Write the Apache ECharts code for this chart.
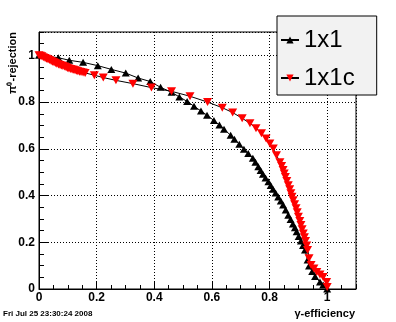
<!DOCTYPE html>
<html>
<head>
<meta charset="utf-8">
<script src="https://cdn.jsdelivr.net/npm/echarts@6/dist/echarts.min.js"></script>
<style>
html, body { margin: 0; padding: 0; background: #fff; }
#chart { width: 396px; height: 322px; }
</style>
</head>
<body>
<div id="chart"></div>
<script>
// curve 1x1 (black, triangle up)
var eff1x1 = [0.000,0.067,0.105,0.153,0.204,0.251,0.301,0.344,0.386,0.422,0.460,0.487,0.514,0.538,0.562,0.583,0.607,0.626,0.642,0.665,0.678,0.695,0.711,0.726,0.742,0.751,0.761,0.769,0.777,0.786,0.796,0.804,0.812,0.821,0.830,0.839,0.847,0.856,0.865,0.873,0.881,0.888,0.894,0.901,0.909,0.916,0.923,0.932,0.937,0.948,0.958,0.975,0.986,1.000];
var rej1x1 = [1.000,0.990,0.979,0.970,0.956,0.940,0.924,0.903,0.888,0.863,0.842,0.822,0.803,0.782,0.762,0.744,0.721,0.702,0.684,0.658,0.641,0.620,0.598,0.580,0.560,0.542,0.523,0.507,0.491,0.475,0.459,0.443,0.427,0.411,0.394,0.377,0.359,0.338,0.316,0.297,0.278,0.262,0.245,0.225,0.205,0.186,0.167,0.124,0.098,0.075,0.053,0.030,0.017,0.000];
// curve 1x1c (red, triangle down)
var eff1x1c = [0.000,0.005,0.010,0.015,0.021,0.026,0.031,0.036,0.042,0.047,0.052,0.057,0.062,0.068,0.073,0.078,0.083,0.089,0.094,0.099,0.104,0.110,0.115,0.120,0.125,0.130,0.135,0.141,0.146,0.153,0.160,0.192,0.223,0.267,0.326,0.390,0.460,0.524,0.585,0.636,0.672,0.705,0.732,0.753,0.772,0.788,0.801,0.813,0.824,0.836,0.842,0.847,0.851,0.855,0.860,0.865,0.870,0.874,0.878,0.882,0.887,0.892,0.896,0.900,0.905,0.909,0.913,0.917,0.921,0.925,0.929,0.932,0.937,0.944,0.954,0.964,0.975,0.986,0.998,1.000];
var rej1x1c = [1.000,0.998,0.996,0.992,0.989,0.986,0.983,0.980,0.976,0.973,0.970,0.967,0.964,0.961,0.959,0.957,0.955,0.952,0.949,0.946,0.944,0.942,0.940,0.938,0.936,0.934,0.932,0.930,0.929,0.927,0.925,0.915,0.905,0.893,0.879,0.862,0.846,0.825,0.800,0.776,0.755,0.731,0.709,0.688,0.667,0.644,0.623,0.601,0.573,0.543,0.526,0.509,0.494,0.479,0.462,0.444,0.427,0.410,0.395,0.380,0.363,0.346,0.328,0.309,0.291,0.274,0.256,0.238,0.222,0.205,0.186,0.167,0.132,0.103,0.088,0.073,0.062,0.051,0.030,0.009];

var seriesNames = ['1x1', '1x1c'];
var axisMax = 1.1;
var majorStep = 0.2;
var minorStep = 0.05;
var xTitle = 'γ-efficiency';
var yTitle = 'π⁰-rejection';
var dateText = 'Fri Jul 25 23:30:24 2008';

var font = '"Liberation Sans", Arial, Helvetica, sans-serif';

function pairs(xs, ys) {
  return xs.map(function (x, i) { return [x, ys[i]]; });
}

function majorAxis(pos, tickLen, margin) {
  return {
    type: 'value', position: pos, min: 0, max: axisMax, interval: majorStep,
    axisLine: { show: true, onZero: false, lineStyle: { color: '#000', width: 1 } },
    axisTick: { show: true, inside: true, length: tickLen, lineStyle: { color: '#000', width: 1 } },
    axisLabel: { show: true, showMaxLabel: false, margin: margin, color: '#000',
      fontFamily: font, fontWeight: 'bold', fontSize: 12 },
    splitLine: { show: true, lineStyle: { color: '#000', width: 1, type: [1, 2] } }
  };
}
function minorAxis(pos, tickLen) {
  return {
    type: 'value', position: pos, min: 0, max: axisMax, interval: minorStep,
    axisLine: { show: false },
    axisTick: { show: true, inside: true, length: tickLen, lineStyle: { color: '#000', width: 1 } },
    axisLabel: { show: false },
    splitLine: { show: false }
  };
}

var chart = echarts.init(document.getElementById('chart'));
chart.setOption({
  animation: false,
  backgroundColor: '#fff',
  grid: { left: 39, top: 32, width: 317, height: 257, show: true,
    borderColor: '#000', borderWidth: 1, backgroundColor: 'transparent', outerBoundsMode: 'none' },
  xAxis: [majorAxis('bottom', 8, 3), minorAxis('bottom', 4)],
  yAxis: [majorAxis('left', 9, 4), minorAxis('left', 5)],
  legend: {
    data: seriesNames,
    orient: 'vertical', left: 277, top: 16,
    backgroundColor: '#f2f2f2', borderColor: '#000', borderWidth: 1, borderRadius: 0,
    padding: [12, 22, 5, 3], itemGap: 14, itemWidth: 18, itemHeight: 9,
    textStyle: { color: '#000', fontFamily: font, fontSize: 24, padding: [0, 0, 0, 0] }
  },
  series: [
    {
      name: seriesNames[0], type: 'line', data: pairs(eff1x1, rej1x1),
      symbol: 'triangle', symbolSize: [8, 7], showAllSymbol: true,
      lineStyle: { color: '#000', width: 1 },
      itemStyle: { color: '#000' }
    },
    {
      name: seriesNames[1], type: 'line', data: pairs(eff1x1c, rej1x1c),
      symbol: 'triangle', symbolRotate: 180, symbolSize: [9, 8], showAllSymbol: true,
      lineStyle: { color: '#000', width: 1 },
      itemStyle: { color: '#ff0000' }
    }
  ],
  graphic: [
    { type: 'text', x: 355, y: 314, style: { text: xTitle, textAlign: 'right', textVerticalAlign: 'middle',
      fill: '#000', font: 'bold 11px ' + font } },
    { type: 'text', x: 12.5, y: 32, rotation: Math.PI / 2, style: { text: yTitle, textAlign: 'right',
      textVerticalAlign: 'middle', fill: '#000', font: 'bold 11px ' + font } },
    { type: 'text', x: 3, y: 314, style: { text: dateText, textAlign: 'left', textVerticalAlign: 'middle',
      fill: '#000', font: 'bold 8px ' + font } }
  ]
});
</script>
</body>
</html>
